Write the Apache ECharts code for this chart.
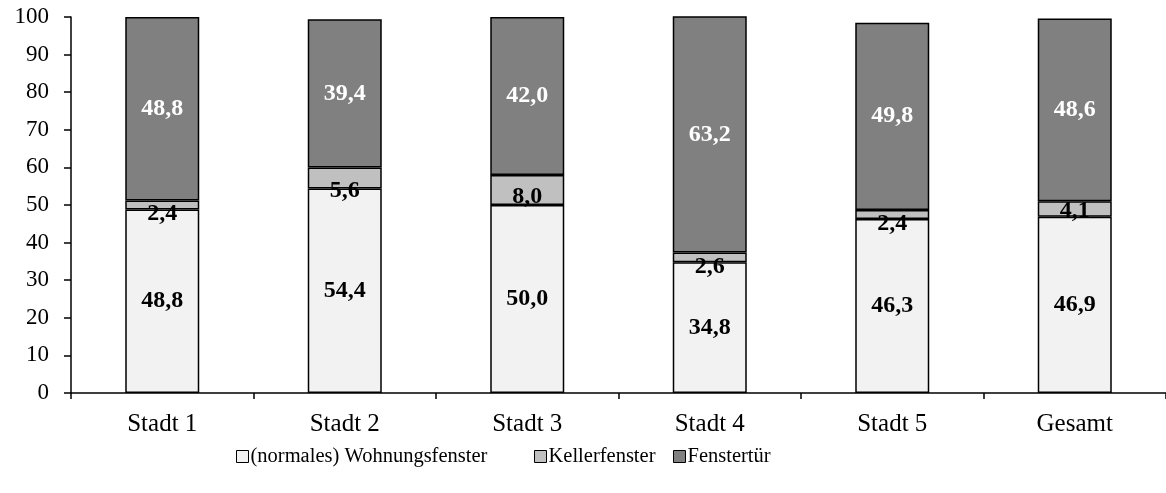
<!DOCTYPE html>
<html><head><meta charset="utf-8">
<script src="https://cdn.jsdelivr.net/npm/echarts@6/dist/echarts.min.js"></script>
<style>html,body{margin:0;padding:0;background:#fff}#c{width:1166px;height:493px}</style>
</head><body><div id="c"></div>
<script>
const categories = ['Stadt 1','Stadt 2','Stadt 3','Stadt 4','Stadt 5','Gesamt'];
const seriesNames = ['(normales) Wohnungsfenster','Kellerfenster','Fenstertür'];
const wohnungsfenster = [48.8, 54.4, 50.0, 34.8, 46.3, 46.9];
const kellerfenster = [2.4, 5.6, 8.0, 2.6, 2.4, 4.1];
const fenstertuer = [48.8, 39.4, 42.0, 63.2, 49.8, 48.6];
const yTicks = [0,10,20,30,40,50,60,70,80,90,100];

const FONT = '"Liberation Serif", "Times New Roman", serif';
const colors = ['#f2f2f2', '#c0c0c0', '#808080'];
const labelColors = ['#000', '#000', '#fff'];
const midNudge = [9, 13, 7, 10, 9, 2];
const fmt = v => v.toFixed(1).replace('.', ',');

function mkSeries(idx, values) {
  return {
    name: seriesNames[idx], type: 'bar', stack: 'total', barWidth: 74,
    itemStyle: { color: colors[idx], borderColor: '#000', borderWidth: 1.5 },
    data: values.map((v, i) => ({
      value: v,
      label: idx === 1 ? { offset: [0, midNudge[i]] } : {}
    })),
    label: {
      show: true, position: 'inside', color: labelColors[idx],
      fontFamily: FONT, fontWeight: 'bold', fontSize: 24,
      formatter: p => fmt(p.value)
    },
    emphasis: { disabled: true }
  };
}

const legendCommon = {
  top: 441, itemWidth: 12, itemHeight: 12, icon: 'rect',
  itemStyle: { borderColor: '#000', borderWidth: 1 },
  textStyle: { fontFamily: FONT, fontSize: 20.5, color: '#000', padding: [0,0,0,-3] }
};

const chart = echarts.init(document.getElementById('c'), null, { renderer: 'canvas' });
chart.setOption({
  animation: false,
  backgroundColor: '#fff',
  grid: { left: 71, top: 17, width: 1101, height: 376 },
  legend: [
    Object.assign({ left: 231, data: [seriesNames[0]] }, legendCommon),
    Object.assign({ left: 529, data: [seriesNames[1]] }, legendCommon),
    Object.assign({ left: 668, data: [seriesNames[2]] }, legendCommon)
  ],
  xAxis: {
    type: 'category', data: categories, boundaryGap: true,
    axisLine: { lineStyle: { color: '#000', width: 1.5 } },
    axisTick: { show: true, length: 6, inside: false, alignWithLabel: false, lineStyle: { color: '#000', width: 1.5 } },
    axisLabel: { fontFamily: FONT, fontSize: 25, color: '#000', margin: 19 },
    splitLine: { show: false }
  },
  yAxis: {
    type: 'value', min: yTicks[0], max: yTicks[yTicks.length - 1], interval: 10,
    axisLine: { show: true, lineStyle: { color: '#000', width: 1.5 } },
    axisTick: { show: true, length: 7, lineStyle: { color: '#000', width: 1.5 } },
    axisLabel: { fontFamily: FONT, fontSize: 23, color: '#000', margin: 22 },
    splitLine: { show: false }
  },
  series: [mkSeries(0, wohnungsfenster), mkSeries(1, kellerfenster), mkSeries(2, fenstertuer)]
});
</script></body></html>
